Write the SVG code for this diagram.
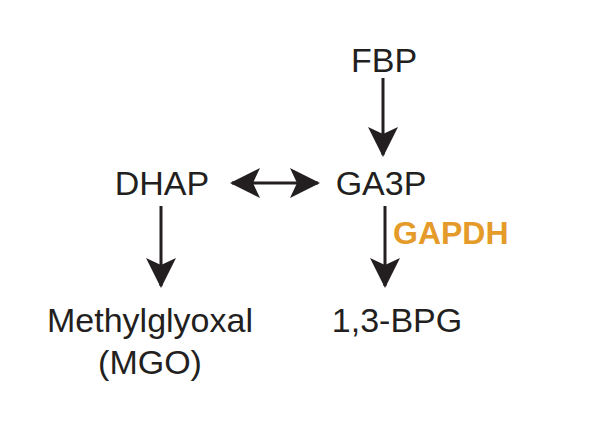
<svg xmlns="http://www.w3.org/2000/svg" width="603" height="440" viewBox="0 0 603 440">
<style>
text{font-family:"Liberation Sans",Arial,sans-serif;font-size:34px;fill:#231f20;text-anchor:middle}
.en{fill:#e49b2a;font-weight:bold;text-anchor:start;font-size:32px}
line{stroke:#231f20;stroke-width:3}
</style>
<defs>
<marker id="ah" viewBox="0 0 30 30" refX="28" refY="15" markerWidth="30" markerHeight="30" markerUnits="userSpaceOnUse" orient="auto-start-reverse">
<path d="M0,0 L30,15 L0,30 L7,15 Z" fill="#231f20"/>
</marker>
</defs>
<g id="connectors">
<line x1="383" y1="78" x2="383" y2="155" marker-end="url(#ah)"/>
<line x1="232" y1="183" x2="318" y2="183" marker-start="url(#ah)" marker-end="url(#ah)"/>
<line x1="161" y1="206" x2="161" y2="286" marker-end="url(#ah)"/>
<line x1="385" y1="206" x2="385" y2="286" marker-end="url(#ah)"/>
</g>
<g id="FBP"><text x="384" y="72">FBP</text></g>
<g id="DHAP"><text x="162" y="195">DHAP</text></g>
<g id="GA3P"><text x="381" y="195">GA3P</text></g>
<g id="GAPDH"><text class="en" x="393" y="244">GAPDH</text></g>
<g id="MGO"><text x="150" y="332">Methylglyoxal</text><text x="150" y="374">(MGO)</text></g>
<g id="BPG"><text x="397" y="332">1,3-BPG</text></g>
</svg>
